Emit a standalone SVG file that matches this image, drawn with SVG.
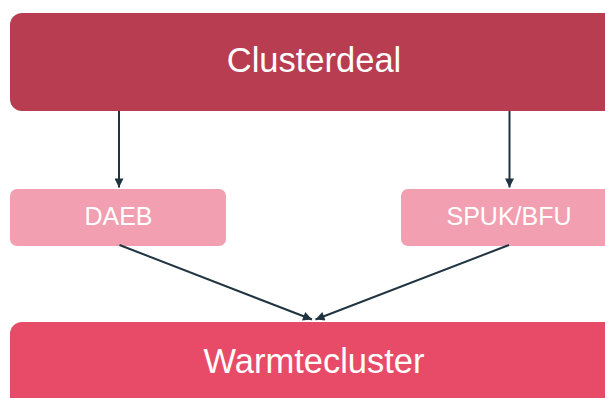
<svg xmlns="http://www.w3.org/2000/svg" width="605" height="398" viewBox="0 0 605 398">
  <defs>
    <marker id="arrow" viewBox="0 0 10 10" refX="10" refY="5" markerWidth="5" markerHeight="4.5" orient="auto" markerUnits="strokeWidth">
      <path d="M0,0 L10,5 L0,10 Z" fill="#1f3440"/>
    </marker>
    <style>
      .label { font-family: "Liberation Sans", Arial, sans-serif; fill: #ffffff; text-anchor: middle; }
      .big { font-size: 34.5px; }
      .small { font-size: 25px; }
      .edge { stroke: #1f3440; stroke-width: 2; fill: none; marker-end: url(#arrow); }
    </style>
  </defs>
  <rect width="605" height="398" fill="#ffffff"/>

  <g id="clusterdeal">
    <rect x="10" y="13" width="608" height="98" rx="12" fill="#b83d50"/>
    <text class="label big" x="314" y="72">Clusterdeal</text>
  </g>

  <g id="daeb">
    <rect x="10" y="189" width="216" height="57" rx="7" fill="#f29fb1"/>
    <text class="label small" x="118.5" y="225">DAEB</text>
  </g>

  <g id="spuk-bfu">
    <rect x="401" y="189" width="216" height="57" rx="7" fill="#f29fb1"/>
    <text class="label small" x="509" y="225">SPUK/BFU</text>
  </g>

  <g id="warmtecluster">
    <rect x="10" y="322" width="608" height="100" rx="12" fill="#e84b67"/>
    <text class="label big" x="314" y="373">Warmtecluster</text>
  </g>

  <g id="connectors">
    <line class="edge" x1="119" y1="111" x2="119" y2="187.5"/>
    <line class="edge" x1="509.5" y1="111" x2="509.5" y2="187.5"/>
    <line class="edge" x1="119.5" y1="245" x2="312" y2="319.5"/>
    <line class="edge" x1="509" y1="245" x2="315.5" y2="319.5"/>
  </g>
</svg>
